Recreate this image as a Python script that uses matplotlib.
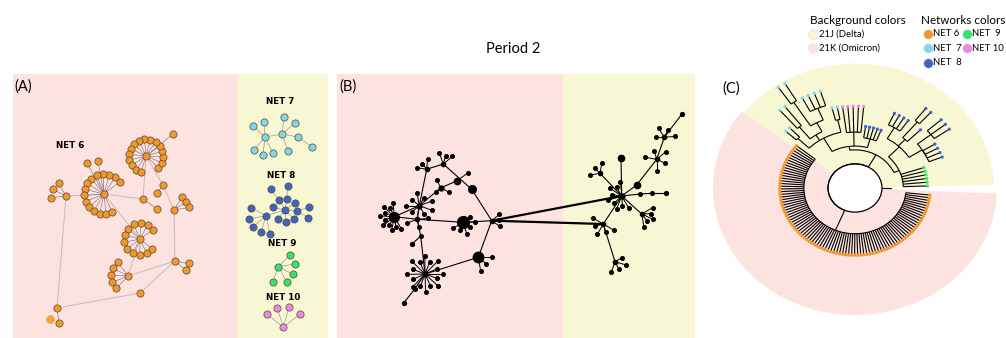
import numpy as np
import matplotlib
matplotlib.use("Agg")
import matplotlib.pyplot as plt
from matplotlib.patches import Wedge, Ellipse
from matplotlib.collections import LineCollection

W, H = 1006, 338
plt.rcParams['font.family'] = ['Lato', 'DejaVu Sans']

PINK_BG = "#fde3e0"
YELLOW_BG = "#f7f7d4"
NET_COLORS = {"NET 6": "#f0982d", "NET 7": "#7fd8e9", "NET 8": "#3e64c5",
              "NET 9": "#36e26c", "NET 10": "#e88be7"}
NODE_EDGE = "#5b4630"
EDGE_LIGHT = "#c9b9b9"
EDGE_DARK = "#857575"

# ---------------- Panel A : networks (layout units = image pixels) ----------------
net6_hub_x = [146, 104, 66, 140, 128, 174, 175, 57, 143, 163, 140]
net6_hub_y = [156, 194, 196, 239, 276, 210, 261, 308, 199, 185, 293]
net6_edges = [(0, 8), (1, 8), (0, 9), (9, 5), (1, 3), (2, 1), (2, 7), (3, 4),
              (5, 6), (6, 4), (6, 10), (10, 7)]
net6_fan_hub = [0, 1, 2, 3, 4, 5, 6]
net6_fan_n = [16, 15, 3, 12, 5, 3, 2]
net6_fan_r = [17, 20, 15, 16, 17, 15, 14]
net6_fan_a0 = [-43, 38, 120, 36, 127, 58, -10]
net6_fan_a1 = [253, 294, 187, 321, 227, 10, -40]
net6_extra_x = [173, 87, 98, 157, 157, 59]
net6_extra_y = [134, 163, 161, 209, 193, 323]
net6_extra_parent = [0, 1, 1, 8, 9, 7]
net6_faint_x = [50]
net6_faint_y = [319]

net7_x = [265, 282, 298, 253, 264, 254, 263, 273, 284, 295, 288, 312]
net7_y = [137, 134, 137, 126, 122, 150, 155, 153, 117, 123, 151, 147]
net7_edges = [(0, 1), (1, 2), (0, 3), (0, 4), (0, 5), (0, 6), (0, 7), (1, 8),
              (1, 9), (1, 10), (2, 11)]

net8_x = [271, 287.7, 279, 286.7, 295, 273.3, 285, 296.7, 309, 308.3, 266, 250.7,
          249.3, 252.7, 261, 270, 277.7, 285.7, 294]
net8_y = [189.3, 185.7, 200, 199, 202.7, 207.3, 210, 211, 207.3, 217.7, 215.7,
          207.7, 219, 227.3, 232.3, 234, 219, 221.7, 219.3]
net8_edges = [(6, 2), (6, 3), (6, 4), (6, 5), (6, 7), (6, 16), (6, 17), (6, 18),
              (3, 1), (2, 0), (7, 8), (7, 9), (10, 6), (10, 11), (10, 12),
              (10, 13), (10, 14), (10, 15)]

net9_x = [278.3, 290, 295, 293.3, 286.7, 272.7]
net9_y = [266.7, 254.7, 264, 274.3, 281.7, 281.7]
net9_edges = [(0, 1), (0, 2), (0, 3), (0, 4), (0, 5)]

net10_x = [283.3, 266.7, 277.3, 289, 300]
net10_y = [327.3, 314, 307.7, 307.3, 314]
net10_edges = [(0, 1), (0, 2), (0, 3), (0, 4)]

netA_labels = ["NET 6", "NET 7", "NET 8", "NET 9", "NET 10"]
netA_label_x = [70, 280, 281, 282, 283]
netA_label_y = [145, 102, 175, 244, 297]

# ---------------- Panel B : combined network ----------------
b_names = ["big1", "big2", "big3", "hubL", "hub2", "j1", "top1", "top2", "mid",
           "med", "med2", "J", "chainLm", "chainL", "v1", "s1",
           "R1", "R2", "R3", "R4", "R5", "R6", "R7", "Rtop", "Rup", "Rmid",
           "Rr1", "Rr2", "Rr3"]
b_x = [394.3, 463.3, 478.3, 425, 419.3, 417.3, 426.7, 443.3, 441, 471.7, 456.7,
       491.7, 414.7, 404, 420.7, 411.7,
       621.7, 603.3, 641.7, 656.7, 664.3, 615, 600, 681.7, 621, 636.7,
       640, 651.7, 666]
b_y = [216.7, 222.3, 257.3, 274, 205.7, 219.3, 169.3, 164, 187.7, 189.3, 181,
       220.7, 289, 302.7, 236, 244.3,
       196, 224, 214, 159.3, 137.3, 261.7, 173.3, 114.3, 158.3, 185,
       194, 193.3, 193.3]
b_size = [7, 8.5, 7.5, 3.5, 3.5, 3, 3, 3, 3.5, 5.5, 4.5, 3, 2.6, 2.8, 2.6, 2.8,
          3.5, 3, 3, 3, 3, 3, 3, 2.8, 4.5, 4.5, 2.6, 2.6, 2.8]
b_edges = [("big1", "j1"), ("j1", "big2"), ("big2", "J"), ("J", "med"),
           ("med", "top2"), ("top2", "top1"), ("top1", "hub2"), ("hub2", "j1"),
           ("j1", "v1"), ("v1", "hubL"), ("v1", "s1"), ("big1", "hub2"),
           ("hub2", "mid"), ("mid", "med2"), ("hubL", "big3"), ("big3", "J"),
           ("hubL", "chainLm"), ("chainLm", "chainL"), ("R1", "R2"),
           ("R1", "R3"), ("R1", "Rmid"), ("Rmid", "R4"), ("R4", "R5"),
           ("R5", "Rtop"), ("R1", "R7"), ("R1", "Rup"), ("R2", "R6"),
           ("R1", "Rr1"), ("Rr1", "Rr2"), ("Rr2", "Rr3")]
b_thick_edges = [("J", "R1"), ("J", "R2")]
b_fan_hub = ["big1", "big2", "big3", "hubL", "hub2", "j1", "top1", "top2", "mid",
             "med2", "J", "R1", "R2", "R3", "R4", "R5", "R6", "R7"]
b_fan_n = [11, 6, 3, 16, 9, 3, 3, 3, 3, 1, 3, 9, 5, 5, 5, 4, 4, 3]
b_fan_r = [14, 12, 14, 18, 13, 11, 10, 12, 9, 14, 10, 14, 12, 13, 12, 11, 11, 10]
b_fan_a0 = [95, -150, -80, 0, 20, -160, 85, 40, 120, 36, -35, 95, 150, -80, -90, 5, -110, 80]
b_fan_a1 = [300, 40, 0, 340, 340, 5, 170, 110, 330, 36, 40, 300, 330, 30, 170, 180, 30, 190]
b_fan_inner = 0.72   # every second leaf of a fan sits at this fraction of the radius

# ---------------- Panel C : circular tree ----------------
# internal node = (radius, [children]); tip = (network, radius)
yellow_tree = (0.30, [
    (0.33, [
        (0.45, [
            (0.56, [("NET 7", 0.66), ("NET 7", 0.66)]),
            (0.50, [
                (0.62, [("NET 7", 0.81), ("NET 7", 0.81)]),
                (0.58, [
                    (0.80, [("NET 7", 0.96), ("NET 7", 0.96)]),
                    (0.68, [("NET 7", 0.80), ("NET 7", 0.80), ("NET 7", 0.80), ("NET 7", 0.80)])])]),
            (0.55, [("NET 7", 0.65), ("NET 7", 0.65)])]),
        (0.44, [("NET 10", 0.645)] * 5),
        (0.40, [("NET 8", 0.49)] * 5)]),
    (0.34, [
        (0.45, [
            (0.55, [("NET 8", 0.65)] * 4),
            (0.52, [(0.68, [("NET 8", 0.80)] * 2), ("NET 8", 0.65)]),
            (0.56, [(0.68, [("NET 8", 0.81)] * 3), (0.56, [("NET 8", 0.66)] * 4)])]),
        ("NET 9", 0.51), ("NET 9", 0.51), ("NET 9", 0.51),
        ("NET 9", 0.51), ("NET 9", 0.51), ("NET 9", 0.51)])])
orange_tree = (0.36, [("NET 6", 0.53)] * 92)
yellow_tip_span = (137.5, 1.8)
orange_tip_span = (141.0, 354.0)
root_r = 0.19
root_stub = (-1.0, 0.19, 0.26)
bg_omicron = (143.0, 357.5, 1.0)
bg_delta = (1.5, 143.0, 0.98)

legend_bg_labels = ["21J (Delta)", "21K (Omicron)"]
legend_bg_colors = ["#fdf6cc", "#fce3e3"]
legend_net_labels = ["NET 6", "NET  9", "NET  7", "NET 10", "NET  8"]
legend_net_keys = ["NET 6", "NET 9", "NET 7", "NET 10", "NET 8"]

# =====================================================================
fig = plt.figure(figsize=(W / 100, H / 100), dpi=100)


def fan(hx, hy, n, r, a0, a1, inner=1.0):
    a = np.radians(np.linspace(a0, a1, n))
    rr = np.where(np.arange(n) % 2 == 1, r * inner, r)
    return hx + rr * np.cos(a), hy - rr * np.sin(a)


def node(ax, x, y, color, ms=5.2, z=3):
    ax.plot(x, y, 'o', ms=ms, mfc=color, mec=NODE_EDGE, mew=0.5, ls='none', zorder=z)


# ---- Panel A ----
axA = fig.add_axes([13 / W, 0, 315 / W, 264 / H])
axA.set_xlim(13, 328)
axA.set_ylim(338, 74)
axA.axis('off')
axA.axvspan(13, 238, color=PINK_BG, lw=0, zorder=0)
axA.axvspan(238, 328, color=YELLOW_BG, lw=0, zorder=0)

hx, hy = np.array(net6_hub_x, float), np.array(net6_hub_y, float)
for i, j in net6_edges:
    axA.plot([hx[i], hx[j]], [hy[i], hy[j]], color=EDGE_LIGHT, lw=0.7, zorder=1)
for k, h in enumerate(net6_fan_hub):
    lx, ly = fan(hx[h], hy[h], net6_fan_n[k], net6_fan_r[k], net6_fan_a0[k], net6_fan_a1[k])
    for x, y in zip(lx, ly):
        axA.plot([hx[h], x], [hy[h], y], color=EDGE_DARK, lw=0.45, zorder=1)
    node(axA, lx, ly, NET_COLORS["NET 6"])
for x, y, p in zip(net6_extra_x, net6_extra_y, net6_extra_parent):
    axA.plot([hx[p], x], [hy[p], y], color=EDGE_DARK, lw=0.45, zorder=1)
    node(axA, x, y, NET_COLORS["NET 6"])
axA.plot(net6_faint_x, net6_faint_y, 'o', ms=5.2, color="#f5a43c", zorder=3)
node(axA, hx, hy, NET_COLORS["NET 6"])

for xs, ys, edges, key in [(net7_x, net7_y, net7_edges, "NET 7"),
                           (net8_x, net8_y, net8_edges, "NET 8"),
                           (net9_x, net9_y, net9_edges, "NET 9"),
                           (net10_x, net10_y, net10_edges, "NET 10")]:
    for i, j in edges:
        axA.plot([xs[i], xs[j]], [ys[i], ys[j]], color="#9c9c8c", lw=0.5, zorder=1)
    node(axA, xs, ys, NET_COLORS[key])

for t, x, y in zip(netA_labels, netA_label_x, netA_label_y):
    axA.text(x, y, t, ha='center', va='center', fontsize=6.3, fontweight='bold',
             family=['Liberation Sans Narrow', 'DejaVu Sans'], zorder=5)

# ---- Panel B ----
axB = fig.add_axes([337 / W, 0, 358 / W, 264 / H])
axB.set_xlim(337, 695)
axB.set_ylim(338, 74)
axB.axis('off')
axB.axvspan(337, 563, color=PINK_BG, lw=0, zorder=0)
axB.axvspan(563, 695, color=YELLOW_BG, lw=0, zorder=0)
bpos = {n: (x, y) for n, x, y in zip(b_names, b_x, b_y)}
for a, b in b_edges:
    axB.plot([bpos[a][0], bpos[b][0]], [bpos[a][1], bpos[b][1]], color='black', lw=0.8, zorder=1)
for a, b in b_thick_edges:
    axB.plot([bpos[a][0], bpos[b][0]], [bpos[a][1], bpos[b][1]], color='black', lw=1.6, zorder=1)
for k, h in enumerate(b_fan_hub):
    x0, y0 = bpos[h]
    lx, ly = fan(x0, y0, b_fan_n[k], b_fan_r[k], b_fan_a0[k], b_fan_a1[k], b_fan_inner)
    for x, y in zip(lx, ly):
        axB.plot([x0, x], [y0, y], color='black', lw=0.7, zorder=1)
    axB.plot(lx, ly, 'o', ms=2.6, color='black', ls='none', zorder=2)
for n, s in zip(b_names, b_size):
    axB.plot(*bpos[n], 'o', ms=s, color='black', zorder=3)

# ---- Panel C ----
axC = fig.add_axes([713 / W, 23 / H, 284 / W, 254 / H])
axC.set_xlim(-1, 1)
axC.set_ylim(-1, 1)
axC.axis('off')
axC.add_patch(Wedge((0, 0), bg_omicron[2], bg_omicron[0], bg_omicron[1],
                    width=bg_omicron[2] - root_r, facecolor=PINK_BG, lw=0, zorder=0))
axC.add_patch(Wedge((0, 0), bg_delta[2], bg_delta[0], bg_delta[1],
                    width=bg_delta[2] - root_r, facecolor=YELLOW_BG, lw=0, zorder=0))
axC.add_patch(Ellipse((0, 0), 2 * root_r, 2 * root_r, facecolor='white',
                      edgecolor='black', lw=0.9, zorder=1))


def radial(a, r0, r1):
    t = np.radians(a)
    return [(r0 * np.cos(t), r0 * np.sin(t)), (r1 * np.cos(t), r1 * np.sin(t))]


def arc(r, a0, a1):
    t = np.radians(np.linspace(a0, a1, 60))
    return list(zip(r * np.cos(t), r * np.sin(t)))


def count_tips(nd):
    if isinstance(nd[0], str):
        return 1
    return sum(count_tips(c) for c in nd[1])


def build(nd, parent_r, angles, segs, tips):
    if isinstance(nd[0], str):
        a = next(angles)
        segs.append(radial(a, parent_r, nd[1]))
        tips.append((a, nd[1], nd[0]))
        return a
    r, children = nd
    ch = [build(c, r, angles, segs, tips) for c in children]
    segs.append(arc(r, min(ch), max(ch)))
    a = (ch[0] + ch[-1]) / 2
    segs.append(radial(a, parent_r, r))
    return a


segs, tips = [], []
ya = build(yellow_tree, root_r,
           iter(np.linspace(yellow_tip_span[0], yellow_tip_span[1], count_tips(yellow_tree))),
           segs, tips)
oa = build(orange_tree, root_r,
           iter(np.linspace(orange_tip_span[0], orange_tip_span[1], count_tips(orange_tree))),
           segs, tips)
segs.append(arc(root_r, ya, oa))
segs.append(radial(*root_stub))
axC.add_collection(LineCollection(segs, colors='black', linewidths=0.8, zorder=2))
ta = np.radians([t[0] for t in tips])
tr = np.array([t[1] for t in tips])
axC.scatter(tr * np.cos(ta), tr * np.sin(ta), s=5.5,
            c=[NET_COLORS[t[2]] for t in tips], lw=0, zorder=3)

# ---- overlay texts / legend ----
axO = fig.add_axes([0, 0, 1, 1])
axO.set_xlim(0, W)
axO.set_ylim(H, 0)
axO.axis('off')
axO.patch.set_alpha(0)

axO.text(513, 49, "Period 2", ha='center', va='center', fontsize=10.5)
axO.text(14, 87, "(A)", ha='left', va='center', fontsize=10.5)
axO.text(339, 87, "(B)", ha='left', va='center', fontsize=10.5)
axO.text(722, 89, "(C)", ha='left', va='center', fontsize=10.5)

axO.text(810, 20, "Background colors", ha='left', va='center', fontsize=8.4)
axO.text(921, 20, "Networks colors", ha='left', va='center', fontsize=8.4)
for k, (lab, col) in enumerate(zip(legend_bg_labels, legend_bg_colors)):
    y = 34 + 14 * k
    axO.plot(813, y, 'o', ms=7, mfc=col, mec="#e6e0ee", mew=0.5)
    axO.text(819, y, lab, ha='left', va='center', fontsize=6.8)
net_leg_x = [927.7, 966.7, 927.7, 966.7, 927.7]
net_leg_y = [33.5, 33.5, 48.3, 48.3, 62.7]
for lab, key, x, y in zip(legend_net_labels, legend_net_keys, net_leg_x, net_leg_y):
    axO.plot(x, y, 'o', ms=7, mfc=NET_COLORS[key], mec="#f0f0f0", mew=0.5)
    axO.text(x + 5, y, lab, ha='left', va='center', fontsize=6.8)

fig.savefig("out.png", dpi=100)
